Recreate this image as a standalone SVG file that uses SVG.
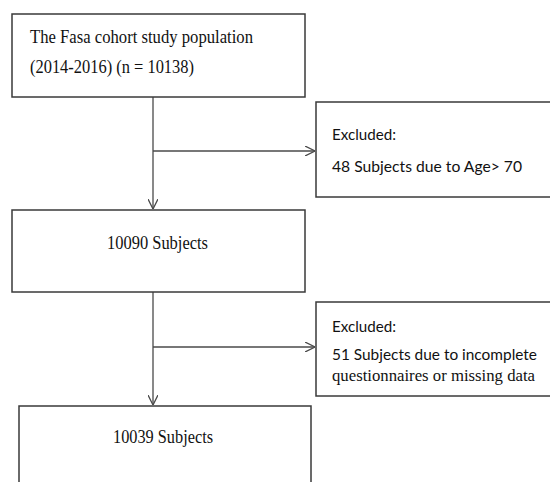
<svg xmlns="http://www.w3.org/2000/svg" width="550" height="482" viewBox="0 0 550 482">
<style>
.box{fill:#fff;stroke:#3a3a3a;stroke-width:1.5}
.ln{fill:none;stroke:#4a4a4a;stroke-width:1.3}
.tr{font-family:"Liberation Serif","Times New Roman",serif;font-size:19px;fill:#111}
.ca{font-family:Lato,"Open Sans",sans-serif;font-size:16px;fill:#111}
</style>
<defs>
<marker id="ah" viewBox="0 0 10 10" refX="10" refY="5" markerWidth="10" markerHeight="10" markerUnits="userSpaceOnUse" orient="auto">
<path d="M0,0 L10,5 L0,10" fill="none" stroke="#4a4a4a" stroke-width="1.3"/>
</marker>
</defs>
<rect width="550" height="482" fill="#fff"/>
<g id="connectors">
<line class="ln" x1="153" y1="97" x2="153" y2="209" marker-end="url(#ah)"/>
<line class="ln" x1="153" y1="151" x2="315" y2="151" marker-end="url(#ah)"/>
<line class="ln" x1="153" y1="292" x2="153" y2="405" marker-end="url(#ah)"/>
<line class="ln" x1="153" y1="347" x2="315" y2="347" marker-end="url(#ah)"/>
</g>
<g id="n1">
<rect class="box" x="12" y="14" width="293" height="83"/>
<text class="tr" x="30" y="43" textLength="223" lengthAdjust="spacingAndGlyphs">The Fasa cohort study population</text>
<text class="tr" x="30" y="73" textLength="164" lengthAdjust="spacingAndGlyphs">(2014-2016) (n = 10138)</text>
</g>
<g id="n2">
<rect class="box" x="316" y="102" width="240" height="95"/>
<text class="ca" x="332" y="140" textLength="64" lengthAdjust="spacingAndGlyphs">Excluded:</text>
<text class="ca" x="332" y="172" textLength="190" lengthAdjust="spacingAndGlyphs">48 Subjects due to Age&gt; 70</text>
</g>
<g id="n3">
<rect class="box" x="12" y="210" width="293" height="82"/>
<text class="tr" x="107" y="249" textLength="101" lengthAdjust="spacingAndGlyphs">10090 Subjects</text>
</g>
<g id="n4">
<rect class="box" x="316" y="302" width="240" height="94"/>
<text class="ca" x="332" y="332" textLength="64" lengthAdjust="spacingAndGlyphs">Excluded:</text>
<text class="ca" x="332" y="360" textLength="205" lengthAdjust="spacingAndGlyphs">51 Subjects due to incomplete</text>
<text class="tr" x="332" y="381" style="font-size:17.5px" textLength="203" lengthAdjust="spacingAndGlyphs">questionnaires or missing data</text>
</g>
<g id="n5">
<rect class="box" x="19" y="406" width="292" height="90"/>
<text class="tr" x="113" y="443" textLength="100" lengthAdjust="spacingAndGlyphs">10039 Subjects</text>
</g>
</svg>
